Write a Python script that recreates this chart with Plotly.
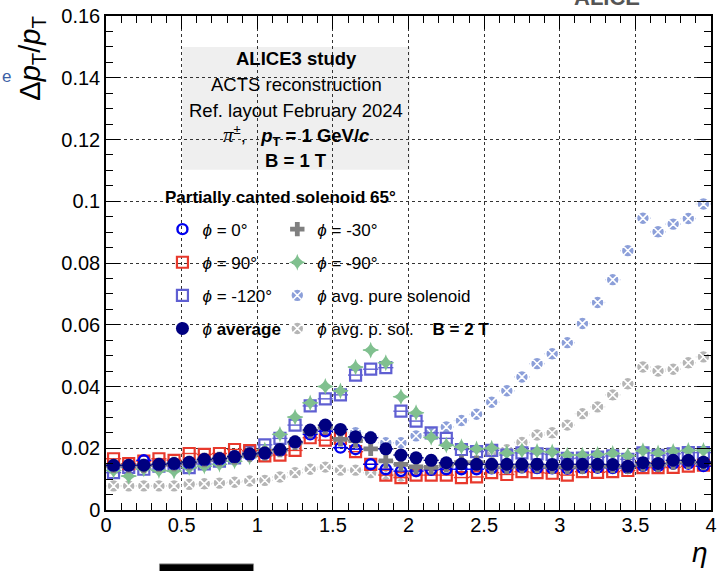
import plotly.graph_objects as go

# ---------------- data ----------------
eta = [0.05, 0.15, 0.25, 0.35, 0.45, 0.55, 0.65, 0.75, 0.85, 0.95,
       1.05, 1.15, 1.25, 1.35, 1.45, 1.55, 1.65, 1.75, 1.85, 1.95,
       2.05, 2.15, 2.25, 2.35, 2.45, 2.55, 2.65, 2.75, 2.85, 2.95,
       3.05, 3.15, 3.25, 3.35, 3.45, 3.55, 3.65, 3.75, 3.85, 3.95]

phi_0 = [0.0142, 0.0143, 0.0161, 0.0145, 0.0148, 0.0150, 0.0160, 0.0163, 0.0170, 0.0178,
         0.0182, 0.0192, 0.0218, 0.0245, 0.0255, 0.0202, 0.0197, 0.0148, 0.0132, 0.0126,
         0.0126, 0.0130, 0.0132, 0.0132, 0.0132, 0.0135, 0.0136, 0.0138, 0.0136, 0.0135,
         0.0134, 0.0136, 0.0137, 0.0136, 0.0136, 0.0143, 0.0142, 0.0150, 0.0150, 0.0142]

phi_90 = [0.0166, 0.0150, 0.0158, 0.0166, 0.0161, 0.0183, 0.0180, 0.0183, 0.0196, 0.0192,
          0.0175, 0.0178, 0.0193, 0.0234, 0.0226, 0.0232, 0.0189, 0.0148, 0.0113, 0.0105,
          0.0113, 0.0113, 0.0113, 0.0105, 0.0107, 0.0121, 0.0115, 0.0124, 0.0121, 0.0119,
          0.0113, 0.0124, 0.0122, 0.0124, 0.0128, 0.0137, 0.0137, 0.0138, 0.0142, 0.0145]

phi_m120 = [0.0121, 0.0138, 0.0132, 0.0142, 0.0145, 0.0137, 0.0149, 0.0158, 0.0169, 0.0188,
            0.0211, 0.0232, 0.0275, 0.0337, 0.0360, 0.0373, 0.0437, 0.0456, 0.0461, 0.0320,
            0.0288, 0.0250, 0.0232, 0.0196, 0.0189, 0.0193, 0.0178, 0.0185, 0.0182, 0.0180,
            0.0167, 0.0168, 0.0171, 0.0175, 0.0164, 0.0185, 0.0177, 0.0182, 0.0186, 0.0186]

phi_avg = [0.0145, 0.0145, 0.0145, 0.0148, 0.0151, 0.0155, 0.0164, 0.0167, 0.0173, 0.0182,
           0.0185, 0.0196, 0.0221, 0.0259, 0.0275, 0.0261, 0.0237, 0.0234, 0.0198, 0.0178,
           0.0169, 0.0161, 0.0153, 0.0149, 0.0148, 0.0148, 0.0148, 0.0148, 0.0148, 0.0147,
           0.0148, 0.0148, 0.0148, 0.0147, 0.0142, 0.0153, 0.0151, 0.0161, 0.0161, 0.0155]

phi_m30 = [0.0143, 0.0142, 0.0143, 0.0146, 0.0149, 0.0152, 0.0162, 0.0165, 0.0171, 0.0180,
           0.0183, 0.0194, 0.0218, 0.0255, 0.0268, 0.0229, 0.0225, 0.0198, 0.0159, 0.0148,
           0.0140, 0.0138, 0.0145, 0.0153, 0.0153, 0.0140, 0.0140, 0.0142, 0.0142, 0.0140,
           0.0140, 0.0140, 0.0142, 0.0142, 0.0140, 0.0148, 0.0146, 0.0154, 0.0156, 0.0152]

phi_m90 = [0.0128, 0.0110, 0.0133, 0.0128, 0.0126, 0.0137, 0.0142, 0.0148, 0.0158, 0.0172,
           0.0195, 0.0245, 0.0301, 0.0347, 0.0400, 0.0386, 0.0463, 0.0518, 0.0477, 0.0367,
           0.0315, 0.0235, 0.0210, 0.0205, 0.0198, 0.0200, 0.0185, 0.0192, 0.0190, 0.0188,
           0.0178, 0.0178, 0.0180, 0.0183, 0.0176, 0.0192, 0.0185, 0.0190, 0.0193, 0.0193]

pure_sol = [0.0140, 0.0141, 0.0142, 0.0145, 0.0148, 0.0152, 0.0160, 0.0165, 0.0170, 0.0178,
            0.0183, 0.0195, 0.0218, 0.0250, 0.0265, 0.0255, 0.0250, 0.0238, 0.0218, 0.0218,
            0.0240, 0.0250, 0.0269, 0.0290, 0.0310, 0.0349, 0.0386, 0.0431, 0.0474, 0.0506,
            0.0542, 0.0604, 0.0672, 0.0746, 0.0840, 0.0945, 0.0901, 0.0926, 0.0944, 0.0991]

pure_sol_2T = [0.0078, 0.0078, 0.0078, 0.0078, 0.0078, 0.0083, 0.0085, 0.0087, 0.0090, 0.0094,
               0.0096, 0.0107, 0.0121, 0.0132, 0.0139, 0.0129, 0.0129, 0.0121, 0.0116, 0.0110,
               0.0124, 0.0132, 0.0145, 0.0150, 0.0153, 0.0182, 0.0195, 0.0219, 0.0243, 0.0250,
               0.0275, 0.0312, 0.0334, 0.0373, 0.0409, 0.0463, 0.0450, 0.0456, 0.0477, 0.0496]

bin_half = 0.05

x_tickvals = [0, 0.5, 1, 1.5, 2, 2.5, 3, 3.5, 4]
x_ticktext = ["0", "0.5", "1", "1.5", "2", "2.5", "3", "3.5", "4"]
y_tickvals = [0, 0.02, 0.04, 0.06, 0.08, 0.1, 0.12, 0.14, 0.16]
y_ticktext = ["0", "0.02", "0.04", "0.06", "0.08", "0.1", "0.12", "0.14", "0.16"]

PHI = "<i>\u03d5</i>"
FONT = "Liberation Sans, Arial, Helvetica, sans-serif"

# ---------------- figure ----------------
W, H = 722, 571
ML, MR, MT, MB = 106, 5, 15, 61
PW, PH = W - ML - MR, H - MT - MB


def px(xp):
    return (xp - ML) / PW


def py(yp):
    return (H - MB - yp) / PH


fig = go.Figure()

series = [
    # name, values, symbol, color, size, line width, line color, legend, rank
    (PHI + " avg. p. sol.\u00a0\u00a0\u00a0 <b>B = 2 T</b>", pure_sol_2T, "circle-x", "#b5b5b5", 13, 1.6, "white", "legend2", 8),
    (PHI + " avg. pure solenoid", pure_sol, "circle-x", "#8c9fd9", 13, 1.6, "white", "legend2", 7),
    (PHI + " = -120\u00b0", phi_m120, "square-open", "#5f5fd2", 11, 2.2, None, "legend", 3),
    (PHI + " = -90\u00b0", phi_m90, "star-diamond", "#80c08f", 12, 0, None, "legend2", 6),
    (PHI + " = 90\u00b0", phi_90, "square-open", "#e8392c", 11, 2.2, None, "legend", 2),
    (PHI + " = 0\u00b0", phi_0, "circle-open", "#0000ee", 10, 2.4, None, "legend", 1),
    (PHI + " = -30\u00b0", phi_m30, "cross", "#808080", 12, 0, None, "legend2", 5),
    (PHI + " <b>average</b>", phi_avg, "circle", "#000080", 13, 0, None, "legend", 4),
]

for name, vals, sym, col, size, lw, lcol, leg, rank in series:
    marker = dict(symbol=sym, color=col, size=size,
                  line=dict(width=lw, color=(lcol if lcol else col)))
    fig.add_trace(go.Scatter(
        x=eta, y=vals, mode="markers", name=name, marker=marker,
        error_x=dict(type="constant", value=bin_half, width=0, thickness=1.4, color=col),
        legend=leg, legendgroup="g%d" % rank, legendrank=rank, cliponaxis=False,
    ))

axis_common = dict(
    showline=True, linecolor="black", linewidth=1.5, mirror="allticks",
    ticks="inside", tickcolor="black", tickwidth=1.2,
    showgrid=True, gridcolor="#333333", griddash="dot", gridwidth=1,
    zeroline=False, tickfont=dict(family=FONT, size=20, color="black"),
)

fig.update_xaxes(range=[0, 4], tickmode="array", tickvals=x_tickvals, ticktext=x_ticktext,
                 ticklen=13, ticklabelstandoff=-4,
                 minor=dict(ticks="inside", dtick=0.1, tick0=0, ticklen=7, tickcolor="black",
                            tickwidth=1.2, showgrid=False),
                 **axis_common)
fig.update_yaxes(range=[0, 0.16], tickmode="array", tickvals=y_tickvals, ticktext=y_ticktext,
                 ticklen=14,
                 minor=dict(ticks="inside", dtick=0.005, tick0=0, ticklen=7, tickcolor="black",
                            tickwidth=1.2, showgrid=False),
                 **axis_common)

shapes = [
    dict(type="rect", xref="paper", yref="paper", x0=px(183), x1=px(413), y0=py(169), y1=py(46),
         fillcolor="#efefef", line=dict(width=0), layer="between"),
    dict(type="rect", xref="paper", yref="paper", x0=px(160), x1=px(255), y0=py(578), y1=py(564),
         fillcolor="black", line=dict(width=1, color="#888888"), layer="above"),
]

ann = []
box_lines = [
    ("<b>ALICE3 study</b>", 58),
    ("ACTS reconstruction", 84),
    ("Ref. layout February 2024", 110),
    ("<span style='font-family:Liberation Serif;font-size:21px'><i>\u03c0</i></span><sup>\u00b1</sup>,\u00a0\u00a0\u00a0"
     "<b><i>p</i><sub>T</sub> = 1 GeV/<i>c</i></b>", 135),
    ("<b>B = 1 T</b>", 160),
]
for txt, yy in box_lines:
    ann.append(dict(text=txt, xref="paper", yref="paper", x=px(298), y=py(yy),
                    xanchor="center", yanchor="middle", showarrow=False,
                    font=dict(family=FONT, size=18.5, color="black")))

ann.append(dict(text="<b>Partially canted solenoid 65\u00b0</b>", xref="paper", yref="paper",
                x=px(164), y=py(197), xanchor="left", yanchor="middle", showarrow=False,
                font=dict(family=FONT, size=17, color="black")))

ann.append(dict(text="\u0394<i>p</i><sub>T</sub>/<i>p</i><sub>T</sub>", xref="paper", yref="paper",
                x=px(31), y=py(57), xanchor="center", yanchor="middle", textangle=-90,
                showarrow=False, font=dict(family=FONT, size=29, color="black")))
ann.append(dict(text="<i>\u03b7</i>", xref="paper", yref="paper", x=px(706), y=py(553),
                xanchor="center", yanchor="middle", showarrow=False,
                font=dict(family=FONT, size=28, color="black")))
ann.append(dict(text="e", xref="paper", yref="paper", x=px(6), y=py(76),
                xanchor="center", yanchor="middle", showarrow=False,
                font=dict(family=FONT, size=17, color="#3d5fa6")))
ann.append(dict(text="<b>ALICE</b>", xref="paper", yref="paper", x=px(612), y=py(11),
                xanchor="center", yanchor="bottom", showarrow=False,
                font=dict(family=FONT, size=22, color="#555555")))

legend_font = dict(family=FONT, size=17, color="black")
fig.update_layout(
    width=W, height=H,
    margin=dict(l=ML, r=MR, t=MT, b=MB, pad=0),
    paper_bgcolor="white", plot_bgcolor="white",
    font=dict(family=FONT, color="black"),
    shapes=shapes, annotations=ann,
    showlegend=True,
    legend=dict(x=px(163), y=py(211), xanchor="left", yanchor="top",
                bgcolor="rgba(0,0,0,0)", borderwidth=0, font=legend_font,
                traceorder="grouped", tracegroupgap=8, itemsizing="trace"),
    legend2=dict(x=px(279), y=py(211), xanchor="left", yanchor="top",
                 bgcolor="rgba(0,0,0,0)", borderwidth=0, font=legend_font,
                 traceorder="grouped", tracegroupgap=8, itemsizing="trace"),
)

fig.write_html("out.html")
